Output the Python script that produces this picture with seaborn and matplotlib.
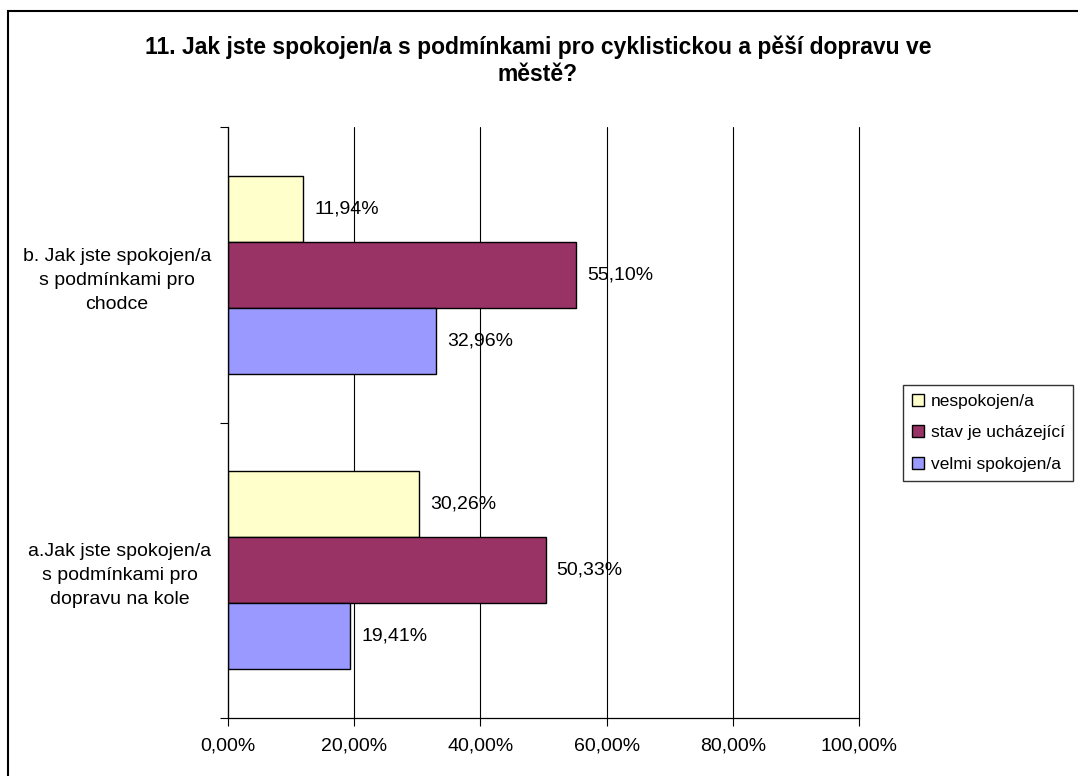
import pandas as pd
import matplotlib
matplotlib.use('Agg')
import matplotlib.pyplot as plt
import matplotlib.patches as mpatches
from matplotlib.ticker import FuncFormatter, FixedLocator
import seaborn as sns

# data
otazky = ['b. Jak jste spokojen/a\ns podmínkami pro\nchodce',
          'a.Jak jste spokojen/a\ns podmínkami pro\ndopravu na kole']
odpovedi = ['nespokojen/a', 'stav je ucházející', 'velmi spokojen/a']
nespokojen = [11.94, 30.26]
uchazejici = [55.10, 50.33]
velmi_spokojen = [32.96, 19.41]
barvy = ['#FFFFCC', '#993366', '#9999FF']

df = pd.DataFrame({
    'otazka': otazky * 3,
    'odpoved': [odpovedi[0]] * 2 + [odpovedi[1]] * 2 + [odpovedi[2]] * 2,
    'procenta': nespokojen + uchazejici + velmi_spokojen,
})

sns.set_style('white')
plt.rcParams['font.family'] = ['Liberation Sans', 'DejaVu Sans']
plt.rcParams['text.color'] = 'black'
plt.rcParams['xtick.color'] = 'black'
plt.rcParams['ytick.color'] = 'black'

fig = plt.figure(figsize=(10.78, 7.76), dpi=100)
ax = fig.add_axes([228 / 1078, 1 - 718 / 776, 631 / 1078, 591 / 776])

sns.barplot(data=df, y='otazka', x='procenta', hue='odpoved', order=otazky,
            hue_order=odpovedi, palette=barvy, orient='h', width=0.67,
            edgecolor='black', linewidth=1.0, saturation=1, legend=False, ax=ax)

for cont in ax.containers:
    ax.bar_label(cont, labels=[f'{v:.2f}%'.replace('.', ',') for v in cont.datavalues],
                 padding=8, fontsize=14, color='black')

ax.set_xlim(0, 100)
ax.set_ylim(1.5, -0.5)
ax.set_xticks([0, 20, 40, 60, 80, 100])
ax.xaxis.set_major_formatter(FuncFormatter(lambda v, p: f'{v:.2f}%'.replace('.', ',')))
ax.grid(axis='x', color='black', linewidth=0.8)
ax.grid(axis='y', visible=False)
ax.set_axisbelow(True)
ax.set_xlabel('')
ax.set_ylabel('')
for gl in ax.get_xgridlines():
    gl.set_clip_on(False)

ax.set_yticks([0, 1])
ax.set_yticklabels(otazky, multialignment='center', linespacing=1.55, fontsize=14)
ax.yaxis.set_minor_locator(FixedLocator([-0.5, 0.5, 1.5]))
ax.tick_params(axis='y', which='major', length=0, pad=12)
ax.tick_params(axis='y', which='minor', length=6, width=0.8, color='black', left=True)
ax.tick_params(axis='x', length=6, width=0.8, color='black', bottom=True, labelsize=14, pad=8)

for s in ['top', 'right']:
    ax.spines[s].set_visible(False)
for s in ['left', 'bottom']:
    ax.spines[s].set_color('black')
    ax.spines[s].set_linewidth(0.9)

fig.text(538 / 1078, 1 - 61 / 776,
         '11. Jak jste spokojen/a s podmínkami pro cyklistickou a pěší dopravu ve\nměstě?',
         ha='center', va='center', fontsize=16.5, fontweight='bold', linespacing=1.2)

handles = [mpatches.Patch(facecolor=c, edgecolor='black', linewidth=1.0) for c in barvy]
fig.legend(handles, odpovedi, loc='upper left', bbox_to_anchor=(903 / 1078, 1 - 385 / 776),
           frameon=True, fancybox=False, edgecolor='black', fontsize=12.5,
           handlelength=0.7, handleheight=0.7, handletextpad=0.4, labelspacing=0.95,
           borderpad=0.5, borderaxespad=0)

# outer chart border
fig.patches.append(mpatches.Rectangle((7.5 / 1078, -0.1), 1.2, 1 - 11.5 / 776 + 0.1,
                                      transform=fig.transFigure, fill=False,
                                      edgecolor='black', linewidth=1.5))

fig.savefig('out.png', dpi=100)
